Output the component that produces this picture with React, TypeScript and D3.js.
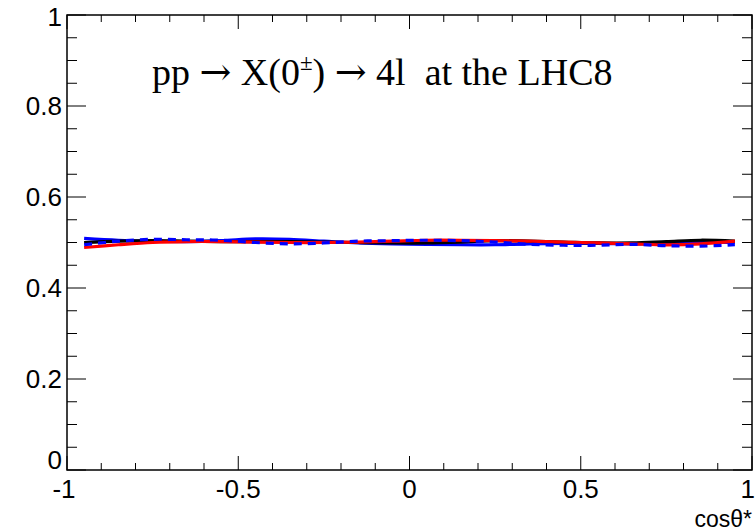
import React from "react";
import * as d3 from "d3";

const cosBins = [-0.95, -0.85, -0.75, -0.65, -0.55, -0.45, -0.35, -0.25, -0.15, -0.05, 0.05, 0.15, 0.25, 0.35, 0.45, 0.55, 0.65, 0.75, 0.85, 0.95];
const blackSolid = [0.5, 0.503, 0.504, 0.503, 0.502, 0.502, 0.502, 0.501, 0.5, 0.499, 0.499, 0.501, 0.504, 0.503, 0.501, 0.499, 0.499, 0.502, 0.505, 0.503];
const redSolid = [0.489, 0.495, 0.5, 0.502, 0.502, 0.501, 0.5, 0.5, 0.501, 0.503, 0.505, 0.505, 0.504, 0.503, 0.501, 0.499, 0.497, 0.495, 0.497, 0.503];
const blueSolid = [0.509, 0.505, 0.503, 0.502, 0.504, 0.508, 0.507, 0.503, 0.499, 0.497, 0.496, 0.495, 0.495, 0.497, 0.498, 0.498, 0.497, 0.498, 0.5, 0.5];
const blueDashed = [0.495, 0.503, 0.507, 0.506, 0.505, 0.5, 0.497, 0.499, 0.503, 0.504, 0.505, 0.504, 0.501, 0.496, 0.494, 0.494, 0.496, 0.493, 0.492, 0.495];

const xMajorTicks = [-1, -0.5, 0, 0.5, 1];
const xTickLabels = ["-1", "-0.5", "0", "0.5", "1"];
const yMajorTicks = [0, 0.2, 0.4, 0.6, 0.8, 1];
const yTickLabels = ["0", "0.2", "0.4", "0.6", "0.8", "1"];

const seriesList = [
  { name: "blueSolid", values: blueSolid, color: "#0000ff", dash: null },
  { name: "black", values: blackSolid, color: "#000000", dash: null },
  { name: "red", values: redSolid, color: "#ff0000", dash: null },
  { name: "blueDashed", values: blueDashed, color: "#0000ff", dash: "8,6" },
];

const W = 755;
const H = 531;
const L = 67;
const R = 752;
const T = 15;
const B = 470;

export default function App() {
  const x = d3.scaleLinear().domain([-1, 1]).range([L, R]);
  const y = d3.scaleLinear().domain([0, 1]).range([B, T]);
  const xMinor = d3.range(-10, 11).map((i) => i / 10);
  const yMinor = d3.range(0, 21).map((i) => i / 20);
  const line = d3
    .line<number>()
    .x((_, i) => x(cosBins[i]))
    .y((d) => y(d))
    .curve(d3.curveCatmullRom.alpha(0.5));
  const sans = "'Liberation Sans', Arial, sans-serif";
  const serif = "'Liberation Serif', 'Times New Roman', serif";
  const arrowFont = "'DejaVu Serif', serif";
  return (
    <svg width={W} height={H} style={{ position: "absolute", left: 0, top: 0, background: "#fff" }}>
      <rect x={0} y={0} width={W} height={H} fill="#fff" />
      <g>
        {seriesList.map((s) => (
          <path
            key={s.name}
            d={line(s.values) || ""}
            fill="none"
            stroke={s.color}
            strokeWidth={3.2}
            strokeDasharray={s.dash || undefined}
          />
        ))}
      </g>
      <rect x={L} y={T} width={R - L} height={B - T} fill="none" stroke="#000" strokeWidth={1.5} />
      {xMinor.map((v, i) => {
        const major = Math.abs(v * 2 - Math.round(v * 2)) < 1e-9;
        const len = major ? 14 : 7;
        return (
          <g key={"xt" + i}>
            <line x1={x(v)} x2={x(v)} y1={B} y2={B - len} stroke="#000" strokeWidth={1} />
            <line x1={x(v)} x2={x(v)} y1={T} y2={T + len} stroke="#000" strokeWidth={1} />
          </g>
        );
      })}
      {yMinor.map((v, i) => {
        const major = i % 4 === 0;
        const len = major ? 19 : 10;
        return (
          <g key={"yt" + i}>
            <line x1={L} x2={L + len} y1={y(v)} y2={y(v)} stroke="#000" strokeWidth={1} />
            <line x1={R} x2={R - len} y1={y(v)} y2={y(v)} stroke="#000" strokeWidth={1} />
          </g>
        );
      })}
      {xMajorTicks.map((v, i) => {
        const last = i === xMajorTicks.length - 1;
        return (
          <text
            key={"xl" + i}
            x={last ? 755 : x(v) - (i === 0 ? 3 : 0)}
            y={498}
            textAnchor={last ? "end" : "middle"}
            fontFamily={sans}
            fontSize={26}
            fill="#000"
          >
            {xTickLabels[i]}
          </text>
        );
      })}
      {yMajorTicks.map((v, i) => {
        let yy = y(v) + 9;
        if (v === 1) yy = y(v) + 11;
        if (v === 0) yy = y(v) - 1;
        return (
          <text
            key={"yl" + i}
            x={62}
            y={yy}
            textAnchor="end"
            fontFamily={sans}
            fontSize={26}
            fill="#000"
          >
            {yTickLabels[i]}
          </text>
        );
      })}
      <text x={752} y={527} textAnchor="end" fontFamily={sans} fontSize={23} fill="#000">
        cosθ*
      </text>
      <text x={152} y={85} fontFamily={serif} fontSize={38} fill="#000" style={{ whiteSpace: "pre" }}>
        <tspan>{"pp "}</tspan>
        <tspan fontFamily={arrowFont}>→</tspan>
        <tspan>{" X(0"}</tspan>
        <tspan dy={-15} fontSize={23}>±</tspan>
        <tspan dy={15}>{") "}</tspan>
        <tspan fontFamily={arrowFont}>→</tspan>
        <tspan>{" 4l\u00a0\u00a0at the LHC8"}</tspan>
      </text>
    </svg>
  );
}
